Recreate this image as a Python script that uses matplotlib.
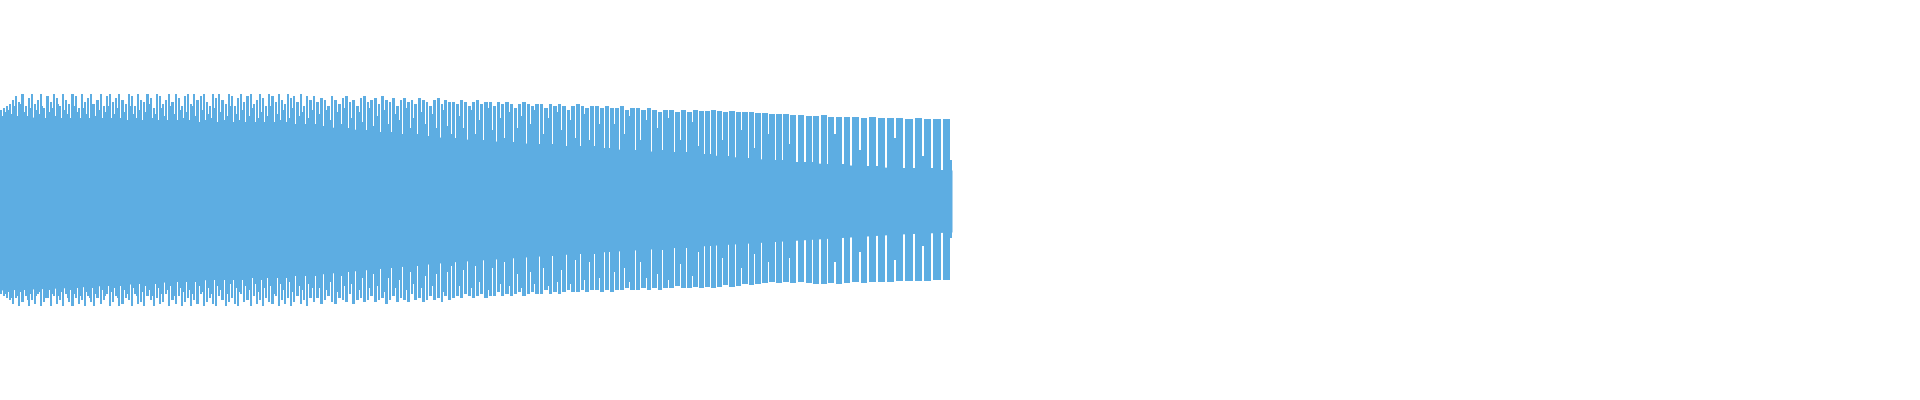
import numpy as np
import matplotlib.pyplot as plt

# waveform peaks: time (ms) of each peak column, upper and lower amplitude (% of full scale)
peak_ms = [
    0, 3, 6, 9, 12, 15, 18, 21, 25, 28,
    31, 34, 37, 40, 43, 46, 50, 53, 56, 59,
    62, 65, 68, 71, 75, 78, 81, 84, 87, 90,
    93, 96, 100, 103, 106, 109, 112, 115, 118, 121,
    125, 128, 131, 134, 137, 140, 143, 146, 150, 153,
    156, 159, 162, 165, 168, 171, 175, 178, 181, 184,
    187, 190, 193, 196, 200, 203, 206, 209, 212, 215,
    218, 221, 225, 228, 231, 234, 237, 240, 243, 246,
    250, 253, 256, 259, 262, 265, 268, 271, 275, 278,
    281, 284, 287, 290, 293, 296, 300, 303, 306, 309,
    313, 316, 320, 324, 327, 331, 334, 338, 342, 345,
    349, 352, 356, 360, 363, 367, 370, 374, 378, 381,
    385, 389, 392, 396, 400, 403, 407, 411, 414, 418,
    422, 426, 429, 433, 437, 441, 444, 448,
    452, 456, 460, 464, 468, 472, 476, 480, 484, 489,
    493, 497, 501, 505, 510, 514, 518, 522, 527, 531,
    535, 540, 544, 549, 553, 558, 562, 567, 571, 576,
    581, 585, 590, 595, 600,
    605, 610, 615, 620, 625, 630, 636, 641, 647, 652,
    658, 663, 669, 675, 681, 687, 693, 699,
    705, 711, 717, 723, 729, 736, 742, 749, 755, 762,
    769, 776, 783, 790, 798,
    806, 813, 821, 828, 836, 844, 852, 861, 869, 878,
    887, 896, 905, 915, 924, 933, 943,
]
end_ms = 952

peak_hi = [
    45, 46, 47, 48, 50, 52, 49, 53, 47, 51,
    53, 48, 50, 53, 46, 52, 49, 53, 51, 47,
    53, 50, 48, 53, 52, 46, 53, 49, 51, 53,
    48, 50, 53, 47, 52, 53, 49, 51, 53, 50,
    48, 53, 52, 47, 53, 50, 49, 53, 51, 46,
    53, 52, 48, 50, 53, 49, 53, 51, 47, 52,
    53, 48, 53, 50, 52, 53, 49, 47, 53, 51,
    53, 50, 48, 53, 52, 47, 51, 53, 49, 52,
    53, 48, 50, 53, 51, 47, 53, 52, 49, 53,
    50, 48, 53, 51, 52, 49, 53, 47, 52, 50,
    52, 49, 51, 50, 47, 52, 50, 48, 51, 52,
    49, 50, 47, 51, 52, 49, 50, 51, 48, 52,
    50, 49, 51, 47, 50, 51, 49, 50, 48, 51,
    50, 49, 47, 50, 51, 48, 50, 49,
    49, 48, 50, 49, 47, 49, 50, 48, 49, 49,
    47, 49, 48, 49, 48, 46, 48, 49, 48, 47,
    48, 48, 46, 48, 47, 48, 47, 45, 47, 48,
    47, 46, 47, 47, 46,
    47, 46, 46, 47, 45, 46, 46, 45, 46, 45,
    44, 45, 45, 44, 45, 44, 45, 44.5,
    44.7, 45, 44.5, 44.2, 44.5, 43.8, 44.2, 43.8, 43.3, 43.5,
    43, 42.8, 43, 42.5, 42.7,
    42.2, 42, 42.3, 41.5, 41.7, 41.3, 41.5, 41.2, 41.4, 41,
    40.8, 41, 40.6, 40.8, 40.5, 40.7, 40.5,
]

peak_lo = [
    -47, -48, -49, -50, -52, -49, -53, -51, -48, -53,
    -50, -52, -47, -53, -51, -49, -53, -48, -52, -50,
    -53, -47, -51, -53, -49, -52, -50, -53, -48, -51,
    -53, -49, -52, -50, -47, -53, -51, -48, -53, -52,
    -49, -50, -53, -47, -52, -51, -53, -48, -50, -53,
    -49, -52, -51, -47, -53, -50, -52, -48, -53, -51,
    -49, -53, -50, -52, -47, -53, -51, -49, -52, -53,
    -48, -50, -53, -51, -49, -52, -53, -47, -51, -50,
    -53, -48, -52, -50, -53, -49, -51, -52, -48, -53,
    -50, -52, -49, -53, -51, -48, -52, -50, -53, -49,
    -51, -49, -52, -50, -48, -51, -52, -49, -50, -51,
    -47, -52, -50, -49, -51, -50, -48, -51, -50, -49,
    -52, -50, -48, -51, -49, -50, -51, -47, -50, -49,
    -51, -50, -48, -50, -49, -51, -48, -50,
    -49, -48, -49, -47, -48, -49, -48, -47, -49, -48,
    -48, -46, -48, -47, -48, -47, -46, -48, -47, -46,
    -47, -47, -45, -47, -46, -47, -46, -45, -46, -46,
    -45, -46, -45, -45, -46,
    -45, -46, -45, -45, -44, -45, -45, -44, -45, -44,
    -45, -44, -44, -43, -44, -44, -43.5, -44,
    -43.5, -44, -43.5, -42.5, -43.5, -43, -42, -42.5, -42, -41.5,
    -41, -41.5, -41, -41.5, -41,
    -41.5, -42, -41.8, -41.5, -41.8, -41.5, -41.2, -41.3, -41, -41,
    -40.8, -40.7, -40.5, -40.5, -40.3, -40.2, -40,
]

# the thin column after each peak (between two peaks)
gap_hi = [
    42, 44, 45, 43, 47, 42, 48, 44, 42, 46,
    41, 45, 43, 47, 41, 44, 46, 42, 48, 41,
    45, 43, 41, 47, 44, 41, 46, 43, 41, 48,
    42, 45, 41, 44, 47, 41, 43, 46, 41, 44,
    40, 47, 43, 41, 45, 40, 44, 48, 41, 43,
    40, 46, 42, 40, 47, 43, 40, 45, 41, 44,
    40, 47, 42, 39, 45, 40, 43, 41, 46, 39,
    44, 40, 42, 47, 39, 43, 40, 45, 39, 42,
    46, 39, 41, 44, 39, 42, 47, 39, 43, 40,
    45, 39, 41, 46, 38, 42, 44, 38, 41, 45,
    38, 43, 37, 45, 40, 36, 44, 38, 46, 36,
    41, 35, 44, 39, 35, 46, 37, 42, 34, 45,
    38, 34, 43, 40, 33, 46, 36, 41, 33, 44,
    38, 32, 43, 36, 31, 45, 37, 33,
    31, 42, 36, 30, 45, 33, 40, 30, 46, 35,
    29, 41, 31, 44, 29, 36, 42, 28, 38, 45,
    28, 33, 41, 28, 44, 35, 27, 40, 31, 27,
    43, 30, 27, 38, 26,
    26, 38, 25, 33, 42, 25, 30, 40, 24, 36,
    25, 41, 24, 30, 24, 39, 27, 23,
    23, 22, 30, 22, 21, 35, 21, 26, 20, 33,
    20, 20, 28, 19, 19,
    19, 18, 18, 33, 18, 17, 25, 17, 17, 16,
    31, 16, 16, 22, 16, 15, 20,
]

gap_lo = [
    -45, -47, -46, -49, -45, -48, -46, -45, -50, -47,
    -44, -48, -46, -44, -49, -45, -47, -44, -48, -46,
    -44, -49, -45, -47, -44, -48, -43, -46, -49, -44,
    -47, -43, -45, -48, -43, -46, -44, -49, -43, -45,
    -47, -42, -44, -48, -42, -46, -43, -45, -48, -42,
    -44, -47, -41, -45, -43, -48, -41, -44, -46, -41,
    -45, -47, -41, -43, -46, -40, -44, -47, -40, -43,
    -45, -40, -47, -42, -40, -44, -46, -40, -43, -45,
    -39, -42, -46, -40, -44, -39, -43, -47, -39, -42,
    -45, -39, -41, -46, -38, -43, -45, -38, -42, -44,
    -38, -44, -37, -45, -41, -36, -46, -38, -43, -36,
    -42, -35, -45, -39, -35, -44, -37, -43, -34, -46,
    -39, -34, -44, -40, -33, -45, -36, -42, -33, -44,
    -38, -32, -43, -37, -31, -46, -36, -33,
    -31, -43, -35, -30, -44, -33, -41, -30, -45, -34,
    -29, -42, -31, -43, -29, -37, -44, -28, -36, -42,
    -28, -34, -43, -28, -41, -35, -27, -42, -30, -27,
    -40, -31, -27, -39, -26,
    -26, -36, -25, -34, -41, -25, -31, -39, -24, -37,
    -25, -40, -24, -32, -24, -38, -26, -23,
    -23, -22, -29, -22, -21, -34, -21, -27, -20, -31,
    -20, -20, -29, -20, -20,
    -19, -19, -18, -31, -18, -18, -26, -18, -17, -17,
    -30, -17, -16, -23, -16, -16, -19,
]

# dense core of the waveform (always filled)
core_ms = [0, 60, 200, 320, 450, 600, 700, 800, 900, 952]
core_hi = [42, 41, 39, 37, 31, 26, 23, 19, 16, 15]
core_lo = [-45, -44, -40, -37, -31, -26, -23, -20, -17, -16]

color = '#5DADE2'

x = np.array(peak_ms, dtype=float)
hi = np.array(peak_hi)
lo = np.array(peak_lo)
ghi = np.array(gap_hi)
glo = np.array(gap_lo)
d = np.diff(np.append(x, end_ms))
gap = np.where(d >= 8, 2, 1)

fig = plt.figure(figsize=(19.2, 4), dpi=100)
ax = fig.add_axes([0, 0, 1, 1])
ax.fill_between(core_ms, core_lo, core_hi, color=color, linewidth=0)
ax.bar(x, hi - lo, bottom=lo, width=d - gap, align='edge', color=color, linewidth=0)
ax.bar(x + d - gap, ghi - glo, bottom=glo, width=gap, align='edge', color=color, linewidth=0)
ax.set_xlim(0, 1920)
ax.set_ylim(-100, 100)
ax.axis('off')

fig.savefig('out.png', dpi=100, facecolor='white')
